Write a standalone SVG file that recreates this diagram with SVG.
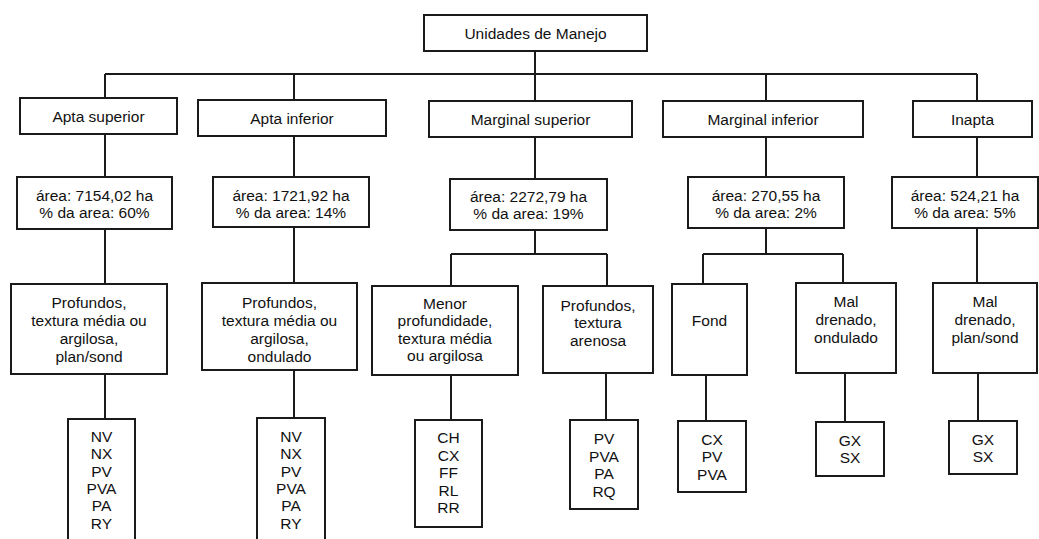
<svg xmlns="http://www.w3.org/2000/svg" width="1039" height="539" viewBox="0 0 1039 539">
<style>
rect{fill:#fff;stroke:#1a1a1a;stroke-width:2}
.c path{fill:none;stroke:#1a1a1a;stroke-width:2}
text{font-family:"Liberation Sans",Arial,sans-serif;font-size:15.5px;fill:#111;text-anchor:middle}
</style>
<rect x="0" y="0" width="1039" height="539" style="stroke:none"/>
<g class="c" id="connectors">
<path d="M535 51V74M105 74H977M105 74V98M294 74V100M535 74V101M766 74V101M977 74V101"/>
<path d="M105 134V177M294 136V177M535 137V179M766 137V177M977 137V177"/>
<path d="M105 229V284M294 227V283M535 230V254M451 254H607M451 254V286M607 254V286M766 228V254M703 254H843M703 254V284M843 254V283M977 228V283"/>
<path d="M105 374V419M294 370V418M451 375V420M606 373V420M706 375V421M845 373V422M978 373V421"/>
</g>
<g id="root"><rect x="424" y="15" width="223" height="36"/><text x="535.5" y="38.5">Unidades de Manejo</text></g>
<g id="apta-sup"><rect x="20" y="98" width="157" height="36"/><text x="98.5" y="121.5">Apta superior</text></g>
<g id="apta-inf"><rect x="198" y="100" width="188" height="36"/><text x="292" y="123.5">Apta inferior</text></g>
<g id="marg-sup"><rect x="429" y="101" width="203" height="36"/><text x="530.5" y="124.5">Marginal superior</text></g>
<g id="marg-inf"><rect x="663" y="101" width="200" height="36"/><text x="763" y="124.5">Marginal inferior</text></g>
<g id="inapta"><rect x="913" y="101" width="119" height="36"/><text x="972.5" y="124.5">Inapta</text></g>
<g id="area-1"><rect x="17" y="177" width="155" height="52"/><text x="94.5" y="200.5">área: 7154,02 ha</text><text x="94.5" y="218">% da area: 60%</text></g>
<g id="area-2"><rect x="213" y="177" width="156" height="50"/><text x="291" y="200.5">área: 1721,92 ha</text><text x="291" y="218">% da area: 14%</text></g>
<g id="area-3"><rect x="450" y="179" width="157" height="51"/><text x="528.5" y="201.5">área: 2272,79 ha</text><text x="528.5" y="219">% da area: 19%</text></g>
<g id="area-4"><rect x="688" y="177" width="156" height="51"/><text x="766" y="200.5">área: 270,55 ha</text><text x="766" y="218">% da area: 2%</text></g>
<g id="area-5"><rect x="892" y="177" width="146" height="51"/><text x="965" y="200.5">área: 524,21 ha</text><text x="965" y="218">% da area: 5%</text></g>
<g id="solo-1"><rect x="11" y="284" width="156" height="90"/><text x="89" y="308">Profundos,</text><text x="89" y="326">textura média ou</text><text x="89" y="344">argilosa,</text><text x="89" y="362">plan/sond</text></g>
<g id="solo-2"><rect x="202" y="283" width="155" height="87"/><text x="279.5" y="308">Profundos,</text><text x="279.5" y="326">textura média ou</text><text x="279.5" y="344">argilosa,</text><text x="279.5" y="361.5">ondulado</text></g>
<g id="solo-3"><rect x="372" y="286" width="146" height="89"/><text x="445" y="308.5">Menor</text><text x="445" y="326">profundidade,</text><text x="445" y="343.5">textura média</text><text x="445" y="361">ou argilosa</text></g>
<g id="solo-4"><rect x="543" y="286" width="110" height="87"/><text x="598" y="310.5">Profundos,</text><text x="598" y="328">textura</text><text x="598" y="345.5">arenosa</text></g>
<g id="solo-5"><rect x="672" y="284" width="75" height="91"/><text x="709.5" y="325.5">Fond</text></g>
<g id="solo-6"><rect x="796" y="283" width="100" height="90"/><text x="846" y="307">Mal</text><text x="846" y="325">drenado,</text><text x="846" y="343">ondulado</text></g>
<g id="solo-7"><rect x="933" y="283" width="104" height="90"/><text x="985" y="307">Mal</text><text x="985" y="325">drenado,</text><text x="985" y="343">plan/sond</text></g>
<g id="lista-1"><rect x="68" y="419" width="67" height="140"/><text x="101.5" y="442">NV</text><text x="101.5" y="459.3">NX</text><text x="101.5" y="476.6">PV</text><text x="101.5" y="494">PVA</text><text x="101.5" y="511.2">PA</text><text x="101.5" y="528.5">RY</text></g>
<g id="lista-2"><rect x="257" y="418" width="68" height="140"/><text x="291" y="442">NV</text><text x="291" y="459.3">NX</text><text x="291" y="476.6">PV</text><text x="291" y="494">PVA</text><text x="291" y="511.2">PA</text><text x="291" y="528.5">RY</text></g>
<g id="lista-3"><rect x="415" y="420" width="67" height="107"/><text x="448.5" y="443">CH</text><text x="448.5" y="460.5">CX</text><text x="448.5" y="478">FF</text><text x="448.5" y="495.5">RL</text><text x="448.5" y="513">RR</text></g>
<g id="lista-4"><rect x="570" y="420" width="68" height="89"/><text x="604" y="444">PV</text><text x="604" y="461.5">PVA</text><text x="604" y="479">PA</text><text x="604" y="496.5">RQ</text></g>
<g id="lista-5"><rect x="678" y="421" width="68" height="71"/><text x="712" y="444.5">CX</text><text x="712" y="462">PV</text><text x="712" y="479.5">PVA</text></g>
<g id="lista-6"><rect x="816" y="422" width="68" height="54"/><text x="850" y="445.5">GX</text><text x="850" y="463">SX</text></g>
<g id="lista-7"><rect x="949" y="421" width="68" height="53"/><text x="983" y="444.5">GX</text><text x="983" y="462">SX</text></g>
</svg>
